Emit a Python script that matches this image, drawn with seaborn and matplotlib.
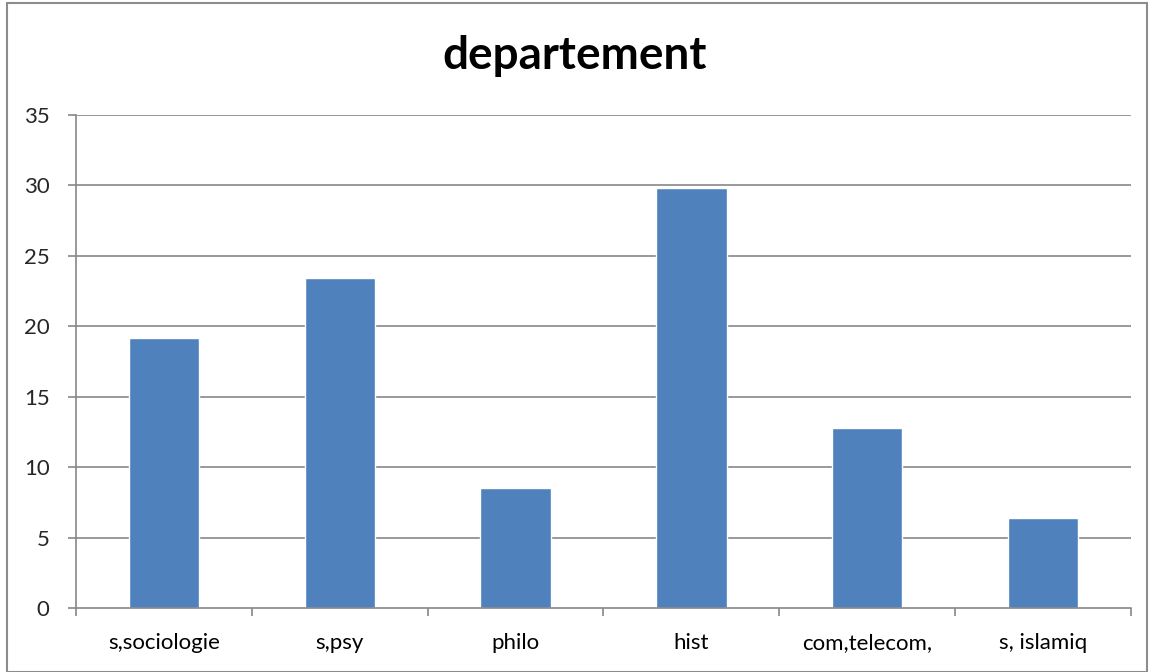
import matplotlib
matplotlib.use("Agg")
import matplotlib.pyplot as plt
import seaborn as sns
import pandas as pd
from matplotlib.patches import Rectangle
from matplotlib.ticker import FixedLocator

# data (percent by department)
categories = ["s,sociologie", "s,psy", "philo", "hist", "com,telecom,", "s, islamiq"]
values = [19.15, 23.4, 8.5, 29.8, 12.77, 6.38]
y_ticks = [0, 5, 10, 15, 20, 25, 30, 35]

df = pd.DataFrame({"departement": categories, "pct": values})

sns.set_theme(style="white")
plt.rcParams["font.family"] = ["Lato", "DejaVu Sans"]

fig = plt.figure(figsize=(11.49, 6.72), dpi=100)
ax = fig.add_axes([0.0661, 0.0952, 0.9182, 0.7337])

sns.barplot(data=df, x="departement", y="pct", color="#4F81BD",
            width=0.4, saturation=1, ax=ax)

grid_col = "#888888"
ax.set_ylim(0, 35)
ax.set_xlim(-0.5, len(categories) - 0.5)
ax.set_yticks(y_ticks)
for y in y_ticks[1:]:
    ax.axhline(y, color=grid_col, lw=1.2, zorder=0)

# category boundaries as tick marks, labels in the middle
ax.xaxis.set_minor_locator(FixedLocator([i - 0.5 for i in range(len(categories) + 1)]))
ax.tick_params(axis="x", which="major", length=0, labelsize=16, pad=18, colors="black")
ax.tick_params(axis="x", which="minor", length=6, width=1.2, color=grid_col, bottom=True)
ax.tick_params(axis="y", length=6, width=1.2, color=grid_col, labelsize=16, pad=13, left=True)

for side in ["top", "right"]:
    ax.spines[side].set_visible(False)
for side in ["left", "bottom"]:
    ax.spines[side].set_color(grid_col)
    ax.spines[side].set_linewidth(1.2)

ax.set_xlabel("")
ax.set_ylabel("")
fig.text(0.5, 0.916, "departement", ha="center", va="center",
         fontsize=33, fontweight="bold", color="black")

# outer chart border
fig.patches.append(Rectangle((0.006, 0.0), 0.992, 0.995, transform=fig.transFigure,
                             fill=False, edgecolor="#8c8c8c", lw=1.5))

fig.savefig("out.png", dpi=100)
